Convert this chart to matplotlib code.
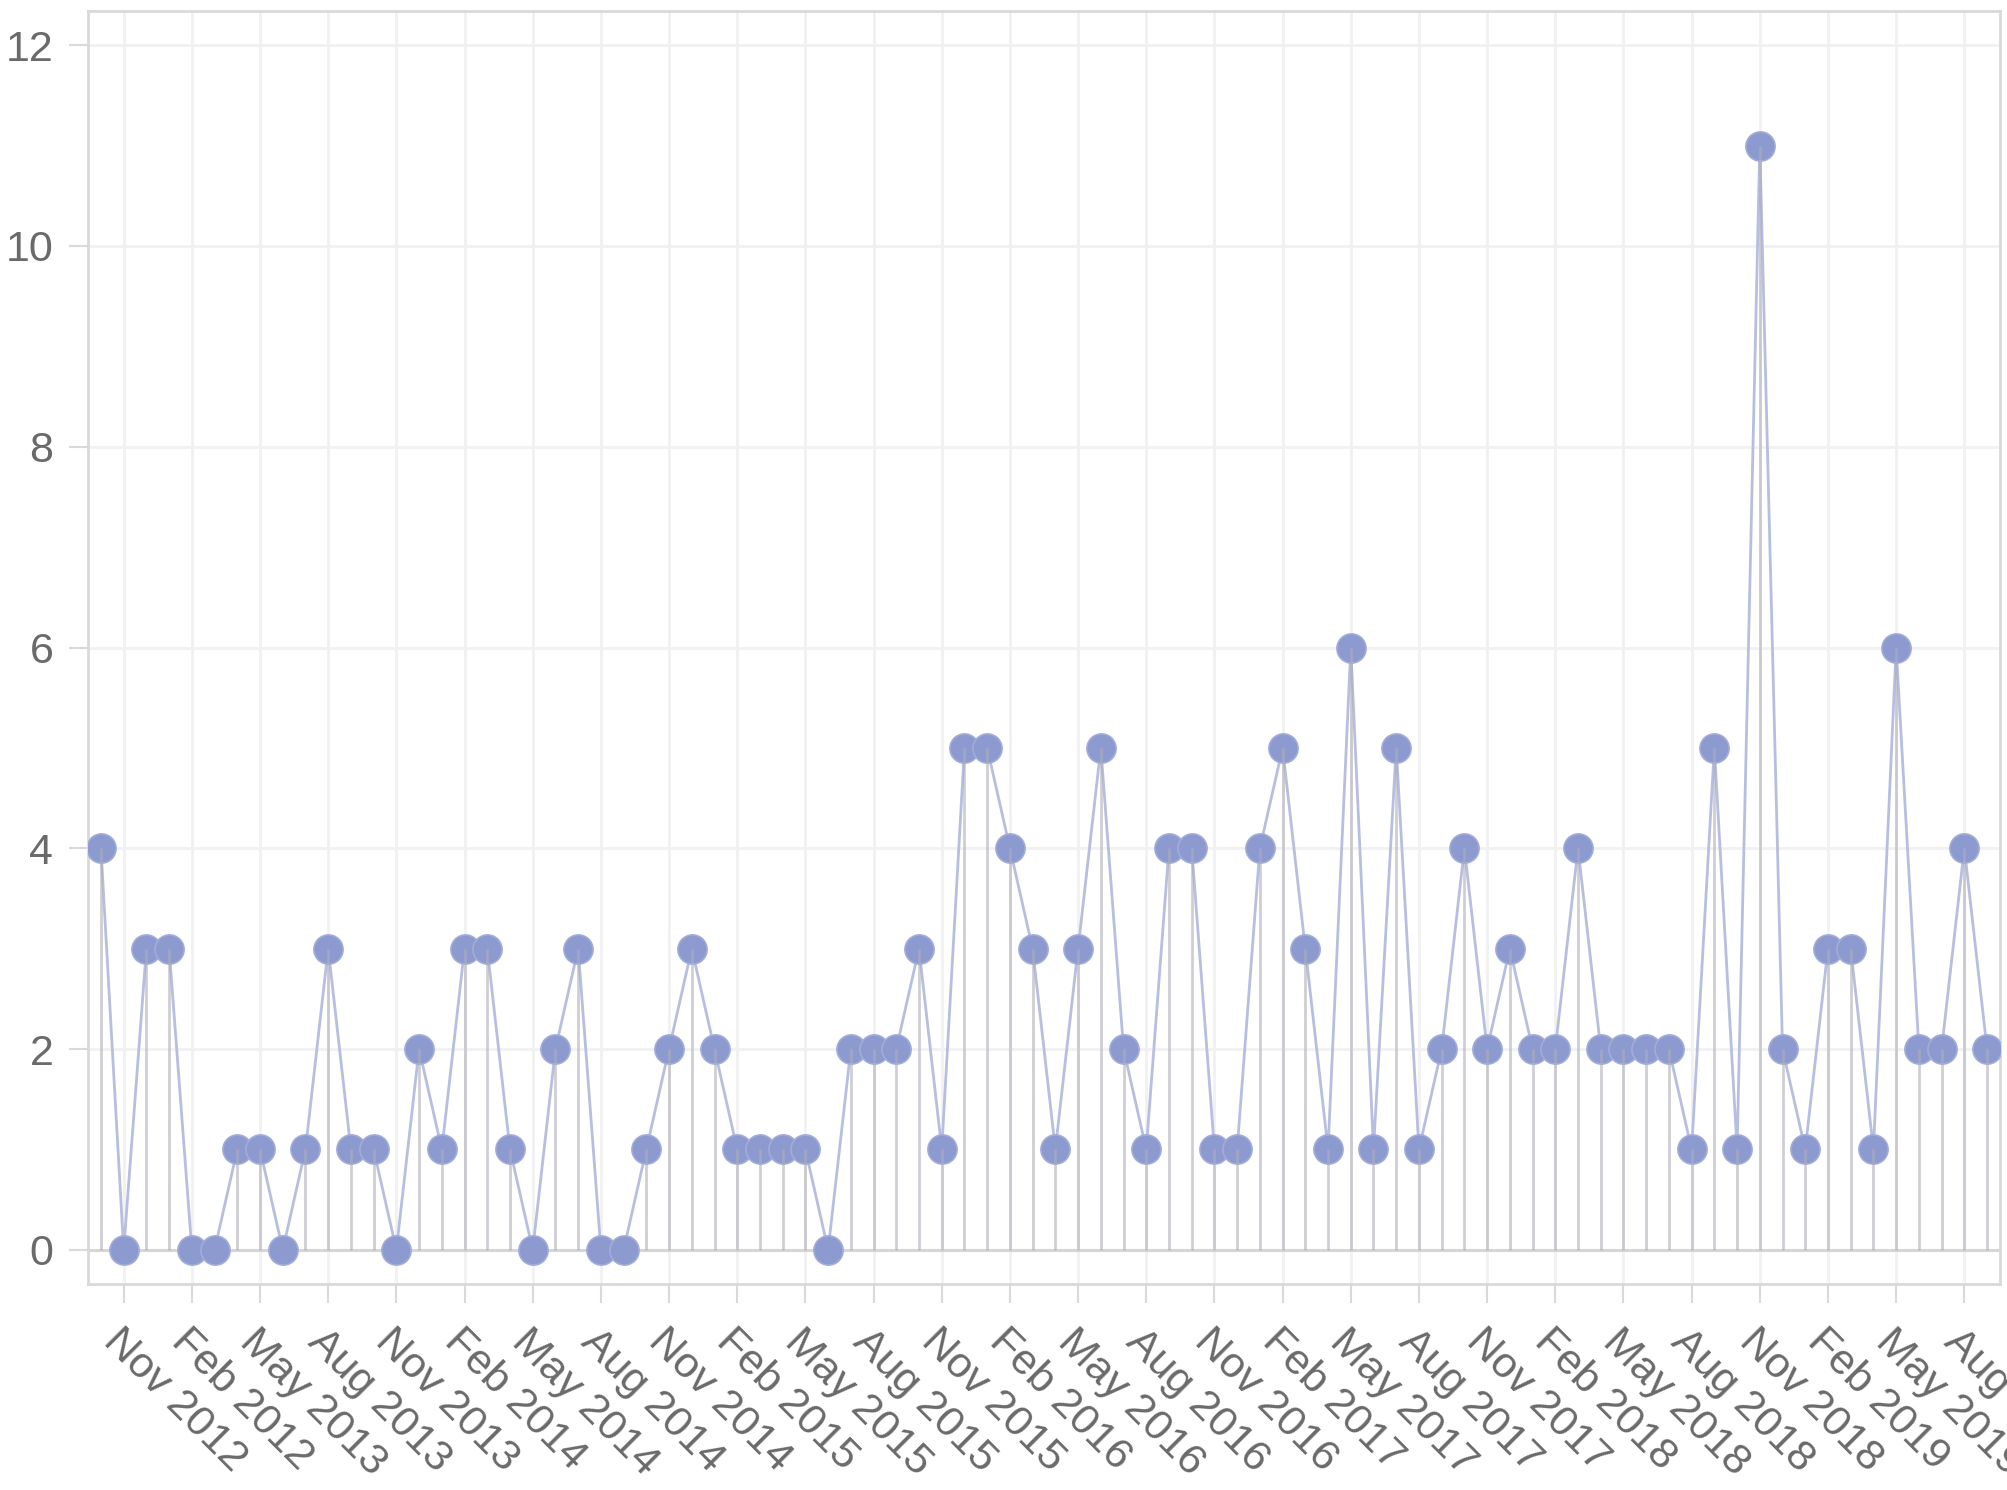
import matplotlib
matplotlib.use("Agg")
import matplotlib.pyplot as plt
import numpy as np

# Monthly counts, Oct 2012 .. Sep 2019
months = ["Oct 2012", "Nov 2012", "Dec 2012",
          "Jan 2013", "Feb 2013", "Mar 2013", "Apr 2013", "May 2013", "Jun 2013",
          "Jul 2013", "Aug 2013", "Sep 2013", "Oct 2013", "Nov 2013", "Dec 2013",
          "Jan 2014", "Feb 2014", "Mar 2014", "Apr 2014", "May 2014", "Jun 2014",
          "Jul 2014", "Aug 2014", "Sep 2014", "Oct 2014", "Nov 2014", "Dec 2014",
          "Jan 2015", "Feb 2015", "Mar 2015", "Apr 2015", "May 2015", "Jun 2015",
          "Jul 2015", "Aug 2015", "Sep 2015", "Oct 2015", "Nov 2015", "Dec 2015",
          "Jan 2016", "Feb 2016", "Mar 2016", "Apr 2016", "May 2016", "Jun 2016",
          "Jul 2016", "Aug 2016", "Sep 2016", "Oct 2016", "Nov 2016", "Dec 2016",
          "Jan 2017", "Feb 2017", "Mar 2017", "Apr 2017", "May 2017", "Jun 2017",
          "Jul 2017", "Aug 2017", "Sep 2017", "Oct 2017", "Nov 2017", "Dec 2017",
          "Jan 2018", "Feb 2018", "Mar 2018", "Apr 2018", "May 2018", "Jun 2018",
          "Jul 2018", "Aug 2018", "Sep 2018", "Oct 2018", "Nov 2018", "Dec 2018",
          "Jan 2019", "Feb 2019", "Mar 2019", "Apr 2019", "May 2019", "Jun 2019",
          "Jul 2019", "Aug 2019", "Sep 2019"]

counts = [4, 0, 3,
          3, 0, 0, 1, 1, 0, 1, 3, 1, 1, 0, 2,
          1, 3, 3, 1, 0, 2, 3, 0, 0, 1, 2, 3,
          2, 1, 1, 1, 1, 0, 2, 2, 2, 3, 1, 5,
          5, 4, 3, 1, 3, 5, 2, 1, 4, 4, 1, 1,
          4, 5, 3, 1, 6, 1, 5, 1, 2, 4, 2, 3,
          2, 2, 4, 2, 2, 2, 2, 1, 5, 1, 11, 2,
          1, 3, 3, 1, 6, 2, 2, 4, 2]

tick_labels = ["Nov 2012", "Feb 2012", "May 2013", "Aug 2013", "Nov 2013",
               "Feb 2014", "May 2014", "Aug 2014", "Nov 2014", "Feb 2015",
               "May 2015", "Aug 2015", "Nov 2015", "Feb 2016", "May 2016",
               "Aug 2016", "Nov 2016", "Feb 2017", "May 2017", "Aug 2017",
               "Nov 2017", "Feb 2018", "May 2018", "Aug 2018", "Nov 2018",
               "Feb 2019", "May 2019", "Aug 2019"]
y_ticks = [0, 2, 4, 6, 8, 10, 12]

plt.rcParams['font.family'] = ['Liberation Sans', 'DejaVu Sans']

W, H = 2008, 1490
fig = plt.figure(figsize=(W / 100, H / 100), dpi=100)
ax = fig.add_axes([88 / W, (H - 1284) / H, (2000 - 88) / W, (1284 - 11) / H])

x = np.arange(len(months))
tick_pos = x[1::3][:len(tick_labels)]

grid_c = '#f1f1f1'
frame_c = '#d9d9d9'
text_c = '#6a6a6a'

ax.set_xlim(-0.57, len(counts) - 1 + 0.57)
ax.set_ylim(-0.34, 12.34)

ax.set_xticks(tick_pos)
ax.set_xticklabels(tick_labels, rotation=-45, ha='left', va='top',
                   rotation_mode='anchor', fontsize=31, color=text_c)
ax.set_yticks(y_ticks)
ax.set_yticklabels([str(v) for v in y_ticks], fontsize=31, color=text_c)

ax.tick_params(axis='x', length=14, width=1.5, color=frame_c, pad=13)
ax.tick_params(axis='y', length=14, width=1.5, color=frame_c, pad=11)

ax.grid(True, color=grid_c, linewidth=2.0, zorder=0)
ax.set_axisbelow(True)
for s in ax.spines.values():
    s.set_color(frame_c)
    s.set_linewidth(2.0)

# baseline
ax.axhline(0, color='#d6d6da', linewidth=2.2, zorder=1)

# connecting line
ax.plot(x, counts, color='#b7bedf', linewidth=2.0, zorder=2)
# markers
ax.plot(x, counts, linestyle='none', marker='o', markersize=21,
        markerfacecolor='#8d9ad0', markeredgecolor='#a2acd9',
        markeredgewidth=1.2, zorder=3)
# drop lines (drawn over markers, semi-transparent)
ax.vlines(x, 0, counts, color='#aeaeb8', alpha=0.6, linewidth=2.0, zorder=4)

fig.savefig('out.png', dpi=100, facecolor='white')
